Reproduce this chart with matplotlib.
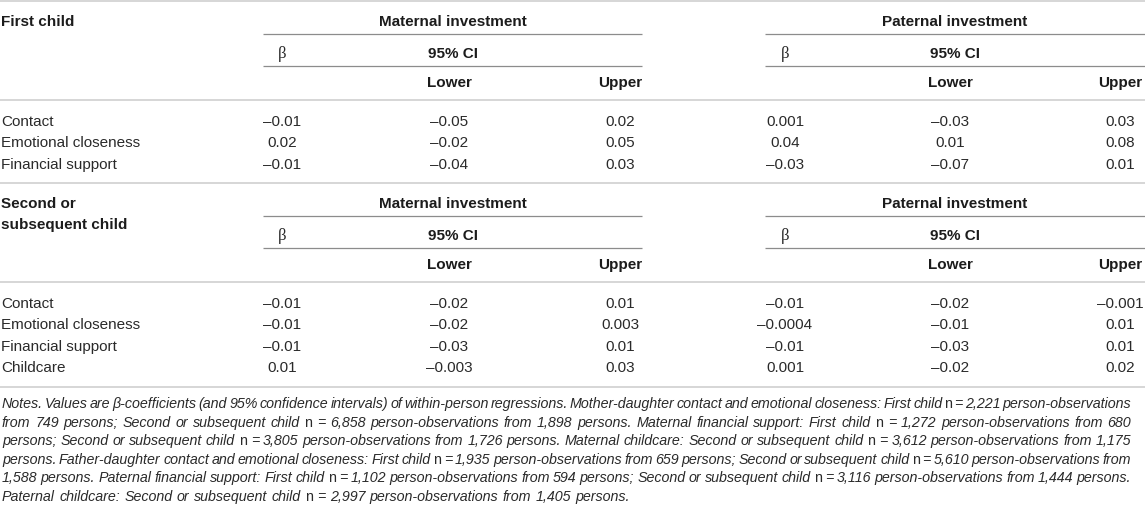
import matplotlib
matplotlib.use("Agg")
import matplotlib.pyplot as plt

# ---------------- data ----------------
block1_title = ["First child"]
block2_title = ["Second or", "subsequent child"]
group_labels = ["Maternal investment", "Paternal investment"]
ci_label = "95% CI"
sub_labels = ["Lower", "Upper"]

rows_1 = ["Contact", "Emotional closeness", "Financial support"]
mat_beta_1 = [-0.01, 0.02, -0.01]
mat_lower_1 = [-0.05, -0.02, -0.04]
mat_upper_1 = [0.02, 0.05, 0.03]
pat_beta_1 = [0.001, 0.04, -0.03]
pat_lower_1 = [-0.03, 0.01, -0.07]
pat_upper_1 = [0.03, 0.08, 0.01]

rows_2 = ["Contact", "Emotional closeness", "Financial support", "Childcare"]
mat_beta_2 = [-0.01, -0.01, -0.01, 0.01]
mat_lower_2 = [-0.02, -0.02, -0.03, -0.003]
mat_upper_2 = [0.01, 0.003, 0.01, 0.03]
pat_beta_2 = [-0.01, -0.0004, -0.01, 0.001]
pat_lower_2 = [-0.02, -0.01, -0.03, -0.02]
pat_upper_2 = [-0.001, 0.01, 0.01, 0.02]

notes_lines = [
    "Notes. Values are β-coefficients (and 95% confidence intervals) of within-person regressions. Mother-daughter contact and emotional closeness: First child n = 2,221 person-observations",
    "from 749 persons; Second or subsequent child n = 6,858 person-observations from 1,898 persons. Maternal financial support: First child n = 1,272 person-observations from 680",
    "persons; Second or subsequent child n = 3,805 person-observations from 1,726 persons. Maternal childcare: Second or subsequent child n = 3,612 person-observations from 1,175",
    "persons. Father-daughter contact and emotional closeness: First child n = 1,935 person-observations from 659 persons; Second or subsequent child n = 5,610 person-observations from",
    "1,588 persons. Paternal financial support: First child n = 1,102 person-observations from 594 persons; Second or subsequent child n = 3,116 person-observations from 1,444 persons.",
    "Paternal childcare: Second or subsequent child n = 2,997 person-observations from 1,405 persons.",
]

# ---------------- layout / style ----------------
W, H = 1145, 512
FONT = "Liberation Sans"
TS = 11.0       # table font size
NS = 10.3       # notes font size
C_TXT = "#2a2a2a"
C_BOLD = "#1c1c1c"
C_LIGHT = "#d6d6d6"
C_DARK = "#8c8c8c"

span_mat = (263, 642)
span_pat = (765, 1145)
col_mat = (282, 449, 620)
col_pat = (785, 950, 1120)

fig = plt.figure(figsize=(W / 100, H / 100), dpi=100)
ax = fig.add_axes([0, 0, 1, 1])
ax.set_xlim(0, W)
ax.set_ylim(H, 0)
ax.axis("off")


def fmt(v):
    return f"{v:g}".replace("-", "–")


def hline(y, x0, x1, color, lw):
    ax.plot([x0, x1], [y, y], color=color, lw=lw, solid_capstyle="butt")


def txt(x, y, s, bold=False, ha="center", size=TS, family=FONT):
    ax.text(x, y + 5, s, ha=ha, va="baseline", fontsize=size,
            family=family, fontweight="bold" if bold else "normal",
            color=C_BOLD if bold else C_TXT)


def block(off, title, rows, data):
    hline(off + 1, 0, W, C_LIGHT, 1.4)
    for i, t in enumerate(title):
        txt(1, off + 20.7 + 21.3 * i, t, bold=True, ha="left")
    for span, cols, lab in [(span_mat, col_mat, group_labels[0]),
                            (span_pat, col_pat, group_labels[1])]:
        mid = (span[0] + span[1]) / 2
        txt(mid, off + 20.7, lab, bold=True)
        hline(off + 34.3, span[0], span[1], C_DARK, 0.9)
        txt(cols[0], off + 53.5, "β", family="Liberation Serif", size=12)
        txt(mid, off + 53, ci_label, bold=True)
        hline(off + 65.7, span[0], span[1], C_DARK, 0.9)
        txt(cols[1], off + 82, sub_labels[0], bold=True)
        txt(cols[2], off + 82, sub_labels[1], bold=True)
    hline(off + 100, 0, W, C_LIGHT, 1.4)
    cols_all = list(col_mat) + list(col_pat)
    for r, lab in enumerate(rows):
        y = off + 121 + 21.3 * r
        txt(1, y, lab, ha="left")
        for c, series in enumerate(data):
            txt(cols_all[c], y, fmt(series[r]))


block(0, block1_title, rows_1,
      [mat_beta_1, mat_lower_1, mat_upper_1, pat_beta_1, pat_lower_1, pat_upper_1])
block(182, block2_title, rows_2,
      [mat_beta_2, mat_lower_2, mat_upper_2, pat_beta_2, pat_lower_2, pat_upper_2])
hline(386.7, 0, W, C_LIGHT, 1.4)

# ---------------- notes (justified) ----------------
renderer = fig.canvas.get_renderer()
line_ends = [1131, 1131, 1131, 1131, 1131, 630]
for i, line in enumerate(notes_lines):
    y = 403.3 + 18.5 * i + 5.0
    words = line.split(" ")
    objs = []
    for w in words:
        t = ax.text(0, y, w, ha="left", va="baseline", fontsize=NS, family=FONT,
                    style="normal" if w == "n" else "italic", color=C_TXT)
        objs.append(t)
    widths = [t.get_window_extent(renderer).width for t in objs]
    x0, x1 = 2, line_ends[i]
    gap = (x1 - x0 - sum(widths)) / (len(words) - 1)
    x = x0
    for t, wd in zip(objs, widths):
        t.set_x(x)
        x += wd + gap

fig.savefig("out.png", dpi=100)
